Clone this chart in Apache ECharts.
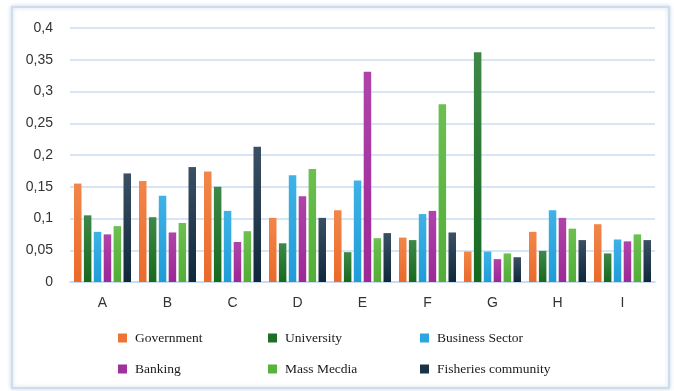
<!DOCTYPE html>
<html>
<head>
<meta charset="utf-8">
<script src="https://cdn.jsdelivr.net/npm/echarts@6/dist/echarts.min.js"></script>
<style>
  html, body { margin: 0; padding: 0; background: #ffffff; }
  #chart { width: 674px; height: 391px; }
</style>
</head>
<body>
<div id="chart"></div>
<script>
// Categories along the x axis
const categories = ['A', 'B', 'C', 'D', 'E', 'F', 'G', 'H', 'I'];

// Series names
const seriesNames = ['Government', 'University', 'Business Sector', 'Banking', 'Mass Mecdia', 'Fisheries community'];

// Values for each series, one per category
const government   = [0.155, 0.159, 0.174, 0.101, 0.113, 0.070, 0.048, 0.079, 0.091];
const university   = [0.105, 0.102, 0.150, 0.061, 0.047, 0.066, 0.362, 0.049, 0.045];
const business     = [0.079, 0.136, 0.112, 0.168, 0.160, 0.107, 0.048, 0.113, 0.067];
const banking      = [0.075, 0.078, 0.063, 0.135, 0.331, 0.112, 0.036, 0.101, 0.064];
const massMedia    = [0.088, 0.093, 0.080, 0.178, 0.069, 0.280, 0.045, 0.084, 0.075];
const fisheries    = [0.171, 0.181, 0.213, 0.101, 0.077, 0.078, 0.039, 0.066, 0.066];

// Y axis tick labels (comma decimal)
const yTickLabels = ['0', '0,05', '0,1', '0,15', '0,2', '0,25', '0,3', '0,35', '0,4'];

const seriesValues = [government, university, business, banking, massMedia, fisheries];

// Bar colours: [top, bottom] of a soft vertical gradient
const palette = [
  ['#f2864a', '#ea6a2a'],
  ['#3f8848', '#16691f'],
  ['#3fb2e6', '#1f9cd8'],
  ['#b043a9', '#9b2896'],
  ['#6cc04f', '#52ad37'],
  ['#3b5064', '#0f283b']
];
const legendSwatch = ['#ee7435', '#1f6e28', '#2aa6e0', '#a0309b', '#58b33d', '#1a3247'];

// Legend item positions (two rows, three columns)
const legendPos = [
  { left: 118, top: 331 }, { left: 268, top: 331 }, { left: 420, top: 331 },
  { left: 118, top: 362 }, { left: 268, top: 362 }, { left: 420, top: 362 }
];

const chart = echarts.init(document.getElementById('chart'), null, { renderer: 'canvas' });

const option = {
  backgroundColor: '#ffffff',
  animation: false,
  graphic: [{
    type: 'rect',
    shape: { x: 12, y: 7, width: 657, height: 381 },
    style: {
      fill: '#ffffff',
      stroke: '#cfdcec',
      lineWidth: 2,
      shadowBlur: 4,
      shadowColor: 'rgba(150,175,210,0.45)'
    },
    z: -10
  }],
  legend: seriesNames.map((name, i) => ({
    data: [{ name: name, itemStyle: { color: legendSwatch[i] } }],
    left: legendPos[i].left,
    top: legendPos[i].top,
    icon: 'rect',
    itemWidth: 9,
    itemHeight: 9,
    itemGap: 0,
    padding: 0,
    textStyle: {
      fontFamily: 'Liberation Serif',
      fontSize: 13.5,
      color: '#1a1a1a',
      padding: [0, 0, 0, 3]
    }
  })),
  grid: { left: 70, right: 19, top: 28, bottom: 109, containLabel: false },
  xAxis: {
    type: 'category',
    data: categories,
    axisLine: { show: true, lineStyle: { color: '#c5d7ee', width: 1.5 } },
    axisTick: { show: false },
    axisLabel: {
      margin: 14,
      fontFamily: 'Liberation Sans',
      fontSize: 14,
      color: '#333'
    }
  },
  yAxis: {
    type: 'value',
    min: 0,
    max: 0.4,
    interval: 0.05,
    axisLine: { show: false },
    axisTick: { show: false },
    splitLine: { show: true, lineStyle: { color: '#cbdcf1', width: 1.5 } },
    axisLabel: {
      margin: 17,
      fontFamily: 'Liberation Sans',
      fontSize: 14,
      color: '#333',
      formatter: (v) => yTickLabels[Math.round(v / 0.05)]
    }
  },
  series: seriesNames.map((name, i) => ({
    name: name,
    type: 'bar',
    data: seriesValues[i],
    barWidth: 7.5,
    barGap: '32%',
    itemStyle: {
      color: new echarts.graphic.LinearGradient(0, 0, 0, 1, [
        { offset: 0, color: palette[i][0] },
        { offset: 1, color: palette[i][1] }
      ])
    }
  }))
};

chart.setOption(option);
</script>
</body>
</html>
